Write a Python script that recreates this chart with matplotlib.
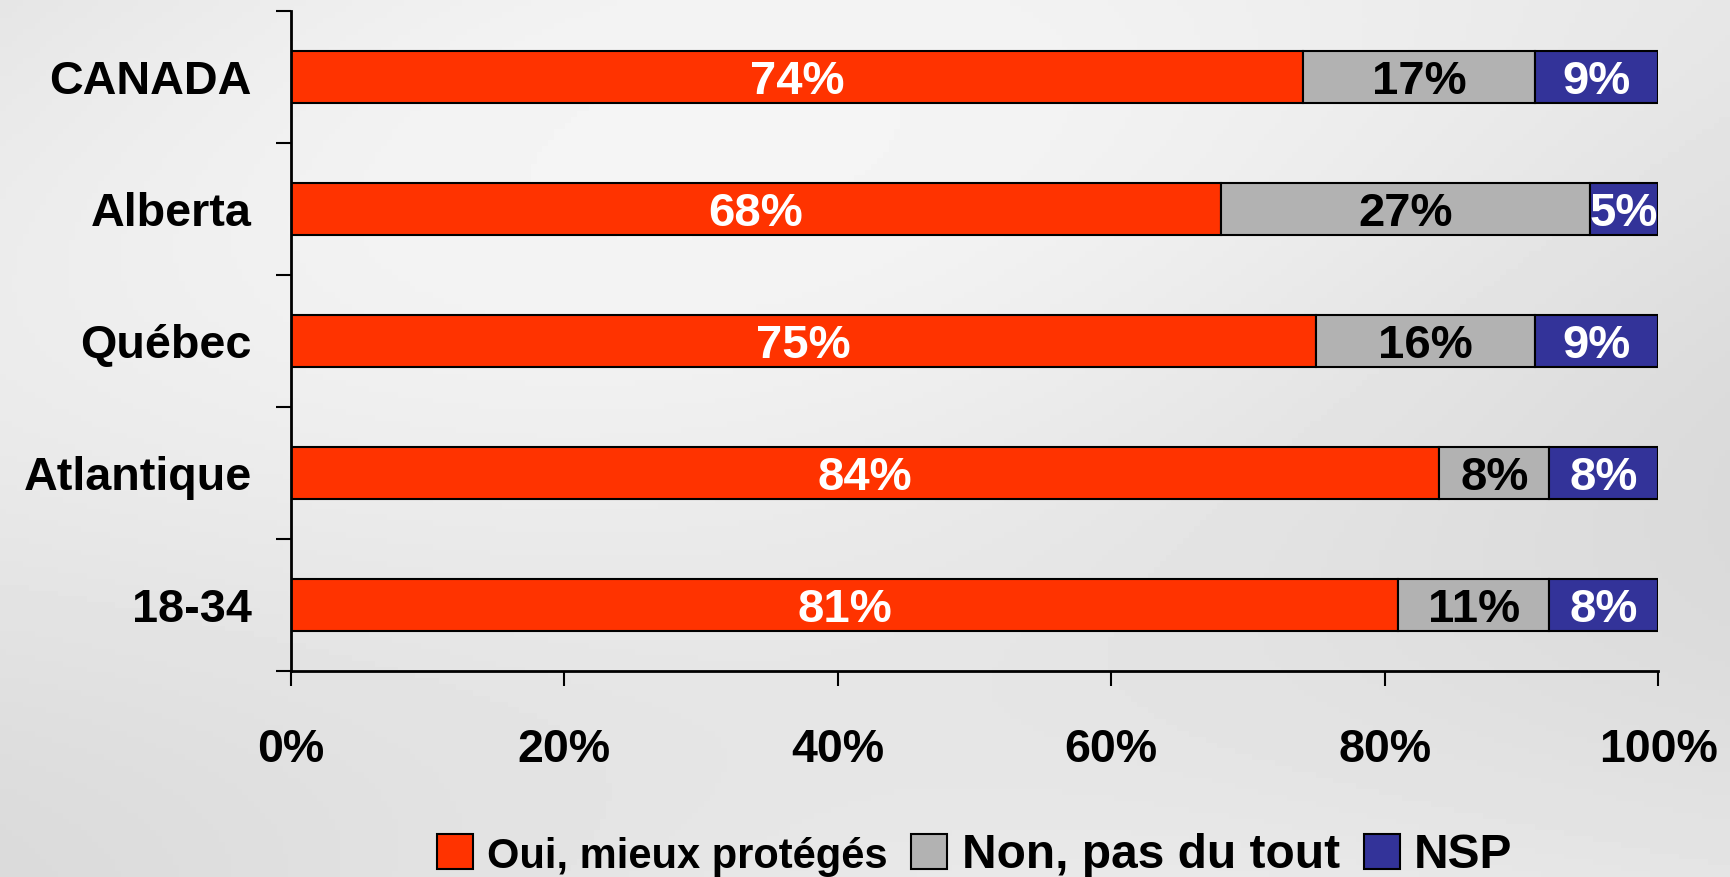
import numpy as np
import matplotlib
matplotlib.use("Agg")
import matplotlib.pyplot as plt
from matplotlib.patches import Patch

plt.rcParams['font.family'] = ['Liberation Sans', 'DejaVu Sans']
plt.rcParams['font.weight'] = 'bold'

# Data
categories = ['CANADA', 'Alberta', 'Québec', 'Atlantique', '18-34']
oui = [74, 68, 75, 84, 81]
non = [17, 27, 16, 8, 11]
nsp = [9, 5, 9, 8, 8]
series_names = ['Oui, mieux protégés', 'Non, pas du tout', 'NSP']
xticks = [0, 20, 40, 60, 80, 100]

red, gray, blue = '#FF3300', '#B2B2B2', '#333399'

fig = plt.figure(figsize=(17.31, 8.77), dpi=100)

# soft gray background
bg = fig.add_axes([0, 0, 1, 1], zorder=-1)
gx, gy = np.meshgrid(np.linspace(0, 1, 300), np.linspace(0, 1, 150))
shade = 0.90 + 0.06 * np.sin(gx * 3.0 + gy * 2.0) * np.cos(gy * 2.5 - gx)
bg.imshow(shade, cmap='gray', vmin=0, vmax=1, aspect='auto', extent=[0, 1, 0, 1])
bg.axis('off')

ax = fig.add_axes([0.168, 0.235, 0.790, 0.7525])
ax.patch.set_alpha(0)

y = np.arange(len(categories))
left2 = np.array(oui)
left3 = left2 + np.array(non)
h = 0.4
b1 = ax.barh(y, oui, height=h, color=red, edgecolor='black', linewidth=1.5)
b2 = ax.barh(y, non, left=left2, height=h, color=gray, edgecolor='black', linewidth=1.5)
b3 = ax.barh(y, nsp, left=left3, height=h, color=blue, edgecolor='black', linewidth=1.5)

anns = []
anns += ax.bar_label(b1, labels=[f'{v}%' for v in oui], label_type='center',
                     color='white', fontsize=34, fontweight='bold')
anns += ax.bar_label(b2, labels=[f'{v}%' for v in non], label_type='center',
                     color='black', fontsize=34, fontweight='bold')
anns += ax.bar_label(b3, labels=[f'{v}%' for v in nsp], label_type='center',
                     color='white', fontsize=34, fontweight='bold')
for a in anns:
    a.set_va('center_baseline')

ax.set_xlim(0, 100)
ax.set_ylim(len(categories) - 0.5, -0.5)
ax.set_xticks(xticks)
ax.set_xticklabels([f'{t}%' for t in xticks], fontsize=33.5, fontweight='bold')
ax.tick_params(axis='x', length=11, width=1.5, pad=30)

ax.set_yticks(y)
ax.set_yticklabels(categories, fontsize=33.7, fontweight='bold', va='center_baseline')
ax.tick_params(axis='y', which='major', length=0, pad=28)
ax.set_yticks(np.arange(len(categories) + 1) - 0.5, minor=True)
ax.tick_params(axis='y', which='minor', length=11, width=1.5)

for s in ['top', 'right']:
    ax.spines[s].set_visible(False)
for s in ['left', 'bottom']:
    ax.spines[s].set_linewidth(2)

handles = [Patch(facecolor=c, edgecolor='black', linewidth=1.5) for c in (red, gray, blue)]
leg = fig.legend(handles, series_names, loc='center', bbox_to_anchor=(0.563, 0.024),
                 ncol=3, frameon=False, fontsize=34.5, handlelength=0.75, handleheight=0.75,
                 handletextpad=0.3, columnspacing=0.5, borderpad=0)
leg.get_texts()[0].set_fontsize(30)
for t in leg.get_texts():
    t.set_fontweight('bold')

fig.savefig('out.png', dpi=100)
